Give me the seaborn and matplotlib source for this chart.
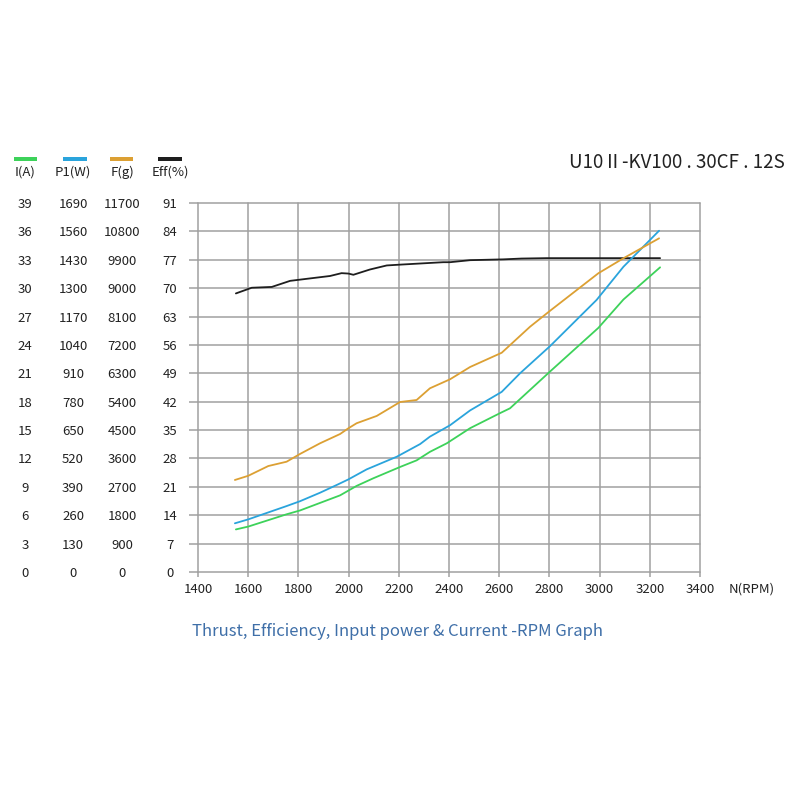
import matplotlib
matplotlib.use("Agg")
import matplotlib.pyplot as plt
import seaborn as sns
import numpy as np
from matplotlib.lines import Line2D

# ---------------- data ----------------
eff_rpm = [1551, 1614, 1694, 1767, 1833, 1926, 1972, 1999, 2019, 2085, 2152, 2205,
           2377, 2404, 2484, 2616, 2689, 2789, 3241]
eff = [68.7, 70.1, 70.3, 71.8, 72.3, 73.0, 73.7, 73.6, 73.3, 74.6, 75.6, 75.8,
       76.4, 76.4, 76.9, 77.1, 77.3, 77.4, 77.4]

i_rpm = [1551, 1600, 1753, 1806, 1886, 1966, 1999, 2032, 2098, 2205, 2271, 2324,
         2391, 2484, 2604, 2643, 2803, 2995, 3095, 3241]
current = [4.5, 4.8, 6.1, 6.5, 7.3, 8.1, 8.6, 9.1, 9.9, 11.1, 11.8, 12.7,
           13.6, 15.2, 16.8, 17.3, 21.2, 25.8, 28.8, 32.2]

p_rpm = [1547, 1600, 1753, 1806, 1886, 1959, 1999, 2072, 2192, 2285, 2324, 2404,
         2484, 2610, 2683, 2803, 2988, 3095, 3188, 3237]
power = [223, 241, 302, 324, 363, 402, 424, 470, 528, 586, 620, 672,
         740, 825, 910, 1035, 1246, 1398, 1506, 1563]

f_rpm = [1547, 1600, 1680, 1753, 1806, 1886, 1966, 1999, 2032, 2112, 2205, 2271,
         2324, 2404, 2484, 2610, 2723, 2803, 2995, 3095, 3237]
thrust = [2918, 3050, 3360, 3497, 3741, 4080, 4375, 4556, 4717, 4948, 5390, 5454,
          5825, 6110, 6500, 6952, 7778, 8285, 9472, 9948, 10580]

x_ticks = [1400, 1600, 1800, 2000, 2200, 2400, 2600, 2800, 3000, 3200, 3400]
i_ticks = list(range(0, 40, 3))
p_ticks = list(range(0, 1691, 130))
f_ticks = list(range(0, 11701, 900))
eff_ticks = list(range(0, 92, 7))

series_labels = ["I(A)", "P1(W)", "F(g)", "Eff(%)"]
title_text = "U10\u2161-KV100 . 30CF . 12S"
caption_text = "Thrust, Efficiency, Input power & Current -RPM Graph"
x_unit = "N(RPM)"

# ---------------- style ----------------
sns.set_theme(style="white")
plt.rcParams['font.family'] = ['Noto Sans CJK JP', 'DejaVu Sans']

c_i = "#3dd25a"
c_p = "#2aa4dc"
c_f = "#dca033"
c_e = "#1e1e1e"
grid_c = "#a0a0a0"
txt_c = "#222222"

fig = plt.figure(figsize=(8, 8), dpi=100)
fig.patch.set_facecolor("white")

L, R, B, T = 198, 700, 572, 203
ax = fig.add_axes([L / 800, 1 - B / 800, (R - L) / 800, (B - T) / 800])
ax.set_facecolor("white")

ax_i = ax.twinx()
ax_p = ax.twinx()
ax_f = ax.twinx()

px2pt = 0.72

# main (Eff) axis
ax.set_xlim(1400, 3400)
ax.set_ylim(0, 91)
ax.set_xticks(x_ticks)
ax.set_yticks(eff_ticks)
for s in ax.spines.values():
    s.set_visible(False)
ax.grid(True, color=grid_c, linewidth=1.1)
for gl in ax.get_xgridlines() + ax.get_ygridlines():
    gl.set_clip_on(False)
ax.tick_params(axis='y', length=9 * px2pt, width=1.1, color=grid_c, direction='out',
               pad=(28 - 9) * px2pt, labelsize=9.5, labelcolor=txt_c, left=True)
ax.tick_params(axis='x', length=5 * px2pt, width=1.1, color=grid_c, direction='out',
               pad=6 * px2pt, labelsize=9.5, labelcolor=txt_c, bottom=True)
for lab in ax.get_yticklabels():
    lab.set_ha('center')

# twin axes (left columns)
for a, lim, ticks, center in [(ax_i, 39, i_ticks, 25), (ax_p, 1690, p_ticks, 73),
                              (ax_f, 11700, f_ticks, 122)]:
    a.set_ylim(0, lim)
    a.yaxis.set_ticks_position('left')
    a.yaxis.set_label_position('left')
    a.set_yticks(ticks)
    for s in a.spines.values():
        s.set_visible(False)
    a.tick_params(axis='y', length=0, pad=(L - center) * px2pt, labelsize=9.5,
                  labelcolor=txt_c, left=True, right=False, labelleft=True, labelright=False)
    for lab in a.get_yticklabels():
        lab.set_ha('center')
    a.grid(False)

lw = 1.3
sns.lineplot(x=i_rpm, y=current, ax=ax_i, color=c_i, linewidth=lw, sort=False)
sns.lineplot(x=p_rpm, y=power, ax=ax_p, color=c_p, linewidth=lw, sort=False)
sns.lineplot(x=f_rpm, y=thrust, ax=ax_f, color=c_f, linewidth=lw, sort=False)
sns.lineplot(x=eff_rpm, y=eff, ax=ax, color=c_e, linewidth=lw, sort=False)

for a in (ax, ax_i, ax_p, ax_f):
    a.set_xlabel("")
    a.set_ylabel("")
ax.set_xlim(1400, 3400)
ax.set_ylim(0, 91)
ax_i.set_ylim(0, 39)
ax_p.set_ylim(0, 1690)
ax_f.set_ylim(0, 11700)

# legend swatches and labels
for (x0, x1), col, lab, cx in zip([(14, 37), (63, 87), (110, 133), (158, 182)],
                                  [c_i, c_p, c_f, c_e], series_labels,
                                  [25, 73, 122, 170]):
    fig.add_artist(Line2D([x0 / 800, x1 / 800], [1 - 158.5 / 800, 1 - 158.5 / 800],
                          color=col, linewidth=4 * px2pt, solid_capstyle='butt'))
    fig.text(cx / 800, 1 - 172 / 800, lab, ha='center', va='center', fontsize=9.5,
             color=txt_c)

fig.text(785 / 800, 1 - 163 / 800, title_text, ha='right', va='center', fontsize=13.5,
         color=txt_c)
fig.text(729 / 800, 1 - 589 / 800, x_unit, ha='left', va='center', fontsize=9.5,
         color=txt_c)
fig.text(398 / 800, 1 - 632 / 800, caption_text, ha='center', va='center', fontsize=12,
         color="#3f6fa8")

fig.savefig("out.png", dpi=100, facecolor="white")
